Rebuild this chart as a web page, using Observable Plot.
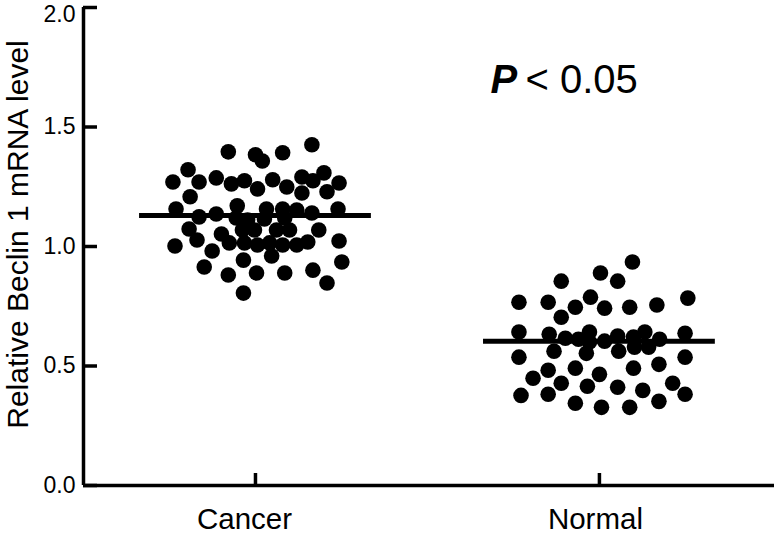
<!DOCTYPE html>
<html><head><meta charset="utf-8">
<script src="https://cdn.jsdelivr.net/npm/d3@7"></script>
<script src="https://cdn.jsdelivr.net/npm/@observablehq/plot@0.6"></script>
<style>html,body{margin:0;padding:0;background:#fff;} svg{display:block}</style>
</head><body><div id="chart"></div>
<script>
const categories = ["Cancer", "Normal"];
const cancerValues = [1.396,1.384,1.358,1.392,1.426,1.321,1.270,1.270,1.287,1.262,1.275,1.241,1.279,1.249,1.291,1.224,1.275,1.308,1.229,1.266,1.208,1.157,1.124,1.136,1.170,1.119,1.111,1.157,1.115,1.157,1.119,1.153,1.140,1.157,1.073,1.027,1.052,1.015,1.069,1.015,1.069,1.006,1.015,1.069,1.006,1.069,1.006,1.019,1.069,1.002,1.023,0.981,0.960,0.943,0.914,0.881,0.889,0.889,0.901,0.935,0.847,0.805];
const cancerJitter = [-0.079,0.000,0.020,0.079,0.164,-0.196,-0.240,-0.164,-0.114,-0.070,-0.032,0.006,0.050,0.091,0.135,0.135,0.167,0.199,0.208,0.243,-0.190,-0.231,-0.164,-0.114,-0.053,-0.056,-0.023,0.032,0.026,0.079,0.085,0.120,0.164,0.240,-0.193,-0.170,-0.099,-0.076,-0.038,-0.032,-0.003,0.006,0.041,0.061,0.079,0.099,0.120,0.152,0.184,-0.234,0.243,-0.126,0.047,-0.035,-0.149,-0.079,0.003,0.085,0.167,0.251,0.208,-0.035];
const normalValues = [0.935,0.889,0.855,0.855,0.767,0.767,0.788,0.746,0.742,0.746,0.755,0.784,0.704,0.642,0.633,0.616,0.612,0.642,0.600,0.604,0.625,0.621,0.642,0.579,0.612,0.637,0.562,0.553,0.562,0.579,0.537,0.537,0.482,0.491,0.465,0.491,0.507,0.449,0.428,0.415,0.411,0.398,0.428,0.377,0.382,0.344,0.327,0.327,0.352,0.382];
const normalJitter = [0.096,0.003,-0.111,0.053,-0.234,-0.149,-0.026,-0.070,0.015,0.088,0.167,0.257,-0.111,-0.234,-0.146,-0.099,-0.061,-0.029,-0.029,0.015,0.053,0.099,0.132,0.143,0.175,0.249,-0.132,-0.038,0.056,0.102,-0.234,0.249,-0.149,-0.070,0.000,0.099,0.173,-0.193,-0.111,-0.035,0.053,0.126,0.213,-0.228,-0.149,-0.070,0.006,0.088,0.173,0.249];
const groupMeans = [1.13, 0.604];
const yTicks = [0, 0.5, 1.0, 1.5, 2.0];
const yTitle = "Relative Beclin 1 mRNA level";
const pLabel = "P";
const pRest = "< 0.05";

const font = "Liberation Sans, Arial, Helvetica, sans-serif";
const points = [
  ...cancerValues.map((v, i) => ({group: categories[0], x: 1 + cancerJitter[i], y: v})),
  ...normalValues.map((v, i) => ({group: categories[1], x: 2 + normalJitter[i], y: v}))
];
const means = groupMeans.map((m, i) => ({group: categories[i], pos: i + 1, value: m}));
const W = 774, H = 536, mL = 83, mR = 0, mT = 7, mB = 51;
const frameW = W - mL - mR, frameH = H - mT - mB;
const labelDx = [-11, -4];
const fmt = d3.format(".1f");

const chart = Plot.plot({
  width: W, height: H,
  marginLeft: mL, marginRight: mR, marginTop: mT, marginBottom: mB,
  style: {fontFamily: font, background: "white", color: "black", overflow: "visible"},
  x: {type: "linear", domain: [0.5, 2.509], axis: null},
  y: {type: "linear", domain: [0, 2], axis: null},
  marks: [
    Plot.dot(points, {x: "x", y: "y", r: 7.8, fill: "black", stroke: "none"}),
    Plot.ruleY(means, {y: "value", x1: d => d.pos - 0.337, x2: d => d.pos + 0.337, stroke: "black", strokeWidth: 5}),
    Plot.ruleY([0], {stroke: "black", strokeWidth: 3.5}),
    Plot.ruleX([0.5], {stroke: "black", strokeWidth: 3.5}),
    Plot.tickY(yTicks, {y: d => d, stroke: "black", strokeWidth: 3.5, insetRight: frameW - 14}),
    Plot.tickX([1, 2], {x: d => d, stroke: "black", strokeWidth: 3.5, insetTop: frameH - 12}),
    Plot.text(yTicks.slice(0, -1), {frameAnchor: "left", y: d => d, text: d => fmt(d), textAnchor: "end", dx: -8, fontSize: 23, fill: "black"}),
    Plot.text(yTicks.slice(-1), {frameAnchor: "left", y: d => d, text: d => fmt(d), textAnchor: "end", lineAnchor: "top", dx: -8, dy: -2, fontSize: 23, fill: "black"}),
    ...categories.map((c, i) => Plot.text([c], {x: () => i + 1, frameAnchor: "bottom", text: d => d, lineAnchor: "top", dy: 23, dx: labelDx[i], fontSize: 29.5, fill: "black"})),
    Plot.text([yTitle], {frameAnchor: "left", text: d => d, rotate: -90, textAnchor: "middle", lineAnchor: "bottom", dx: -56, dy: -12, fontSize: 30, fill: "black"}),
    Plot.text([pLabel], {frameAnchor: "top-left", text: d => d, textAnchor: "start", lineAnchor: "bottom", dx: 407, dy: 85, fontSize: 40, fontWeight: "bold", fontStyle: "italic", fill: "black"}),
    Plot.text([pRest], {frameAnchor: "top-left", text: d => d, textAnchor: "start", lineAnchor: "bottom", dx: 442, dy: 85, fontSize: 40, fill: "black"})
  ]
});
document.getElementById("chart").appendChild(chart);
</script>
</body></html>
